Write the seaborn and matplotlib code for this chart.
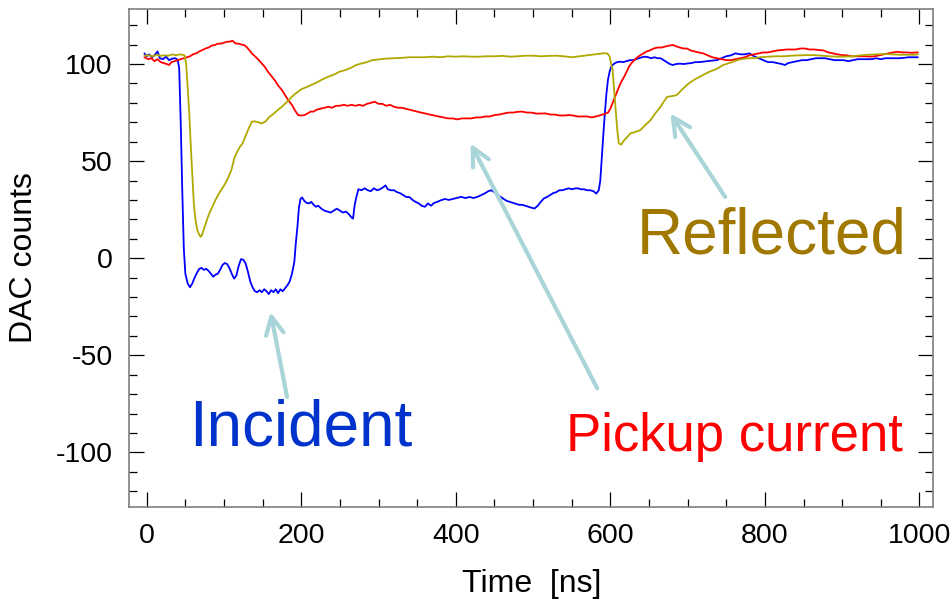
import matplotlib
matplotlib.use("Agg")
import matplotlib.pyplot as plt
from matplotlib.ticker import MultipleLocator
from matplotlib.transforms import ScaledTranslation
import seaborn as sns
import pandas as pd

# ---- Incident pulse (DAC counts vs time in ns) ----
t_incident = [-3, 0, 3, 7, 10, 14, 17, 21, 25, 29, 33, 37, 40, 42, 44, 46, 48, 50, 53, 56,
              59, 62, 65, 68, 71, 74, 77, 80, 83, 86, 89, 92, 95, 98, 101, 104, 107, 110, 113, 116,
              119, 122, 125, 128, 131, 134, 137, 140, 143, 146, 149, 152, 155, 158, 161, 164, 167, 170, 173, 176,
              179, 182, 185, 188, 191, 193, 195, 197, 199, 201, 204, 207, 210, 213, 216, 219, 222, 226, 230, 234,
              238, 242, 246, 250, 254, 258, 262, 265, 267, 269, 271, 274, 278, 282, 286, 290, 294, 298, 302, 306,
              309, 312, 316, 320, 324, 328, 332, 336, 340, 344, 348, 352, 356, 360, 364, 368, 372, 376, 381, 386,
              391, 396, 401, 407, 412, 418, 423, 428, 433, 438, 442, 446, 450, 454, 458, 462, 466, 470, 474, 478,
              482, 486, 490, 494, 498, 502, 506, 510, 514, 518, 522, 526, 530, 534, 538, 542, 546, 550, 554, 558,
              562, 566, 570, 574, 578, 582, 585, 587, 589, 591, 593, 595, 597, 599, 601, 603, 606, 609, 613, 617,
              621, 625, 629, 633, 637, 641, 645, 649, 653, 657, 661, 665, 669, 673, 677, 681, 685, 690, 695, 700,
              705, 710, 715, 720, 726, 732, 738, 744, 750, 756, 762, 768, 774, 780, 786, 792, 798, 804, 810, 816,
              822, 826, 830, 836, 842, 848, 854, 860, 866, 872, 878, 884, 890, 896, 902, 908, 914, 920, 926, 932,
              938, 944, 950, 956, 962, 968, 974, 980, 986, 992, 998]
v_incident = [105.5, 104, 105, 103.5, 104.5, 106.5, 103, 102.5, 103.8, 102, 102.8, 103, 102.2, 98, 70, 35, 5, -8, -13, -15,
              -13, -10, -7.5, -5.5, -5, -6, -5.5, -6.5, -8, -9.5, -8.5, -8, -6, -3.5, -2.5, -3, -5, -8, -10.5, -9,
              -4, -0.5, -0.8, -2.7, -7, -12, -15, -17, -17.5, -16.5, -17.5, -16, -17, -18.5, -16.5, -17.5, -16, -18, -16, -17,
              -15.5, -14, -12, -8, -2, 8, 16, 26, 30.5, 31.3, 29.5, 28.5, 28.2, 29, 27.5, 26.5, 27, 25.5, 24.5, 24,
              23.5, 24.5, 25.5, 24.5, 23.5, 24, 22.5, 21, 20.4, 27, 31, 35.5, 35, 36, 35, 34.5, 36, 35, 35.5, 36.5,
              37.5, 35.5, 35, 35, 34, 33.5, 32.5, 31.5, 31.5, 30, 29, 28.2, 27, 26.5, 28.2, 27, 28.5, 29, 29.9, 30.5,
              30, 30.5, 31, 31.6, 31, 31.5, 31, 31.6, 32.5, 33.5, 34.5, 35, 34, 32.5, 31.6, 30.5, 29.5, 29, 28.5, 28,
              27.5, 27.5, 27, 26.5, 26, 25.6, 27, 29, 30.8, 31.5, 32.5, 33.5, 34, 35, 35, 35.5, 36, 35.5, 35.9, 36,
              35.5, 35.5, 35, 35, 34.5, 33.3, 35, 40, 52, 64, 75, 85, 92, 96, 98.5, 99.5, 100.5, 101, 101.2, 101,
              101.5, 102, 102, 102.5, 103, 103.5, 103.8, 103.5, 103, 103.5, 103, 103, 102, 101, 100, 99.5, 100, 100.2, 100, 100.3,
              100.5, 101, 101, 101.2, 101.5, 101.8, 102, 103, 104, 104.5, 105.5, 105, 105, 105.5, 104, 103, 102, 101, 101, 100.5,
              100, 99.5, 100.5, 101, 101.5, 102, 102, 102.5, 103, 103, 103, 102.5, 102, 102, 102, 101.5, 102, 102.5, 102.5, 102.5,
              102.5, 103, 102.5, 103, 103, 103, 103, 103.2, 103.5, 103.5, 103.5]

# ---- Pickup current ----
t_pickup = [-3, 2, 6, 10, 14, 18, 22, 26, 29, 32, 36, 40, 44, 48, 52, 56, 60, 64, 68, 72,
            76, 80, 84, 88, 92, 96, 100, 104, 107, 111, 115, 119, 123, 126, 130, 133, 136, 140, 144, 149,
            153, 157, 162, 166, 170, 175, 179, 183, 188, 192, 196, 200, 204, 208, 212, 216, 220, 225, 230, 235,
            240, 245, 250, 255, 260, 265, 270, 275, 280, 285, 290, 295, 300, 305, 310, 315, 320, 325, 330, 335,
            340, 345, 350, 355, 360, 366, 372, 378, 384, 390, 396, 402, 408, 414, 420, 426, 432, 438, 444, 450,
            456, 462, 468, 474, 480, 486, 492, 498, 504, 510, 516, 522, 528, 534, 540, 546, 552, 558, 564, 570,
            576, 581, 586, 590, 594, 597, 600, 603, 606, 609, 612, 615, 618, 621, 624, 627, 631, 635, 639, 643,
            647, 651, 656, 661, 666, 671, 676, 681, 686, 690, 695, 699, 704, 709, 714, 720, 726, 732, 738, 744,
            750, 756, 762, 768, 774, 780, 786, 792, 798, 804, 810, 816, 822, 828, 834, 840, 846, 852, 858, 864,
            870, 876, 882, 888, 894, 900, 906, 912, 918, 924, 930, 936, 942, 948, 954, 960, 966, 972, 978, 984,
            990, 998]
v_pickup = [103.5, 102.5, 103, 101.5, 102.5, 101, 100.5, 100, 99.5, 101, 101.5, 102, 102.5, 103, 103.5, 104, 105, 105.5, 106.5, 107.2,
            108, 108.5, 109.5, 109.8, 110.5, 110.5, 111, 111.5, 111.5, 112, 110.6, 110.5, 110, 109.8, 108.5, 107, 105.5, 104, 102.5, 100.3,
            98.5, 96, 93.5, 91.5, 89, 86.6, 84, 81.5, 78.9, 76, 73.7, 73.5, 73.7, 74.5, 75.5, 75.5, 76.5, 77, 77.5, 78,
            77.5, 78.5, 78.5, 79, 78.5, 79, 78.5, 79, 78.5, 79.5, 80, 80.6, 79.5, 79.5, 78.5, 79, 78, 77.5, 77.5, 77,
            76.5, 76, 75.5, 75, 74.6, 74, 73.5, 73, 72.5, 72, 72, 71.5, 72, 72, 72, 72.5, 72.5, 73, 73, 73.7,
            74, 74.5, 75, 75, 75.4, 75.5, 75, 75, 74.5, 74.5, 74.6, 74, 74, 73.5, 73.5, 73.7, 73.5, 73, 73, 73,
            72.5, 73, 73.5, 74, 74.5, 75, 77, 80, 83, 86, 89, 91.5, 93.5, 96, 98.5, 100.3, 102, 103.5, 104.6, 105.5,
            106.5, 107, 108, 108.5, 108.5, 109, 109.5, 109.8, 109, 108.5, 108, 108, 107, 106.5, 106, 105.5, 104.5, 103.5, 103, 102.5,
            102, 102, 102.5, 103, 103.5, 104.5, 105, 105.5, 106, 106, 106.5, 107, 107.2, 107.5, 107.5, 107.5, 108, 108, 107.5, 107.5,
            107.2, 107, 106, 105.5, 105, 104.6, 104.5, 104, 104, 104, 104, 103.8, 104, 104.5, 105, 105.5, 106, 106.3, 106, 106,
            105.8, 106]

# ---- Reflected pulse ----
t_reflected = [-3, 3, 8, 13, 18, 23, 28, 33, 38, 43, 46, 49, 51, 53, 55, 57, 59, 61, 63, 65.5,
               68, 70, 72, 74, 76.5, 79, 82, 85, 89, 93.5, 97, 101, 106, 110, 113, 116, 120, 124, 128, 132,
               136, 140, 144, 149, 154, 158, 162, 166, 170, 175, 180, 185, 190, 195, 200, 206, 213, 220, 227, 235,
               242, 249, 257, 264, 271, 278, 285, 292, 300, 310, 321, 330, 340, 350, 360, 370, 380, 390, 400, 410,
               420, 430, 440, 450, 460, 470, 480, 490, 500, 510, 520, 530, 540, 550, 560, 570, 580, 590, 596, 599,
               601, 603, 605, 607, 609, 611, 614, 618, 622, 626, 632, 639, 645, 652, 658, 665, 669, 673.5, 680, 686,
               692, 699, 705, 711, 716, 722, 728, 734, 740, 746, 752, 758, 764, 770, 778, 786, 794, 804, 814, 824,
               834, 844, 854, 864, 874, 884, 894, 904, 914, 924, 934, 944, 954, 964, 974, 984, 994, 998]
v_reflected = [104.3, 104.5, 104, 104.8, 104.2, 104.5, 104.3, 105, 104.5, 105, 104.8, 104.5, 100, 88, 75, 58, 43, 28, 20, 14.4,
               12, 11, 12.5, 15, 18, 21, 24, 26.5, 30, 33.3, 35.5, 38, 41.9, 46, 51, 54, 57, 59.1, 63, 66.9,
               70.3, 70.5, 70, 69.4, 70.5, 72.5, 73.7, 75, 76.5, 78, 80, 82, 84, 85.5, 87, 88, 89.2, 90.5, 92, 93.5,
               94.5, 96, 96.9, 98, 99.5, 100.3, 101, 102, 102.4, 102.8, 103, 103.2, 103.5, 103.5, 103.5, 103.8, 103.5, 104, 103.8, 104,
               103.8, 103.8, 104, 104, 104.2, 103.8, 104, 104.3, 104.3, 104, 104.2, 104.3, 104, 103.5, 104, 104.5, 105, 105.5, 105.5, 104,
               100, 97, 86, 76, 66, 59.1, 58.5, 60.8, 62.5, 64.3, 65, 66, 68.5, 71.1, 74.5, 78, 80.5, 83.1, 83.5, 84,
               86.5, 89.2, 91, 92.5, 93.5, 94.8, 96, 96.9, 98, 99.5, 100.3, 101, 102, 102.5, 103, 103, 103.5, 103.8, 104, 104,
               104.3, 104.5, 104.6, 104.6, 104.3, 104, 103.8, 103.8, 104, 104.5, 104.8, 105, 105.2, 105, 104.8, 104.8, 104.8, 105]

# ---- Annotations: label text, text anchor, arrow tail and arrow head ----
labels = ["Incident", "Pickup current", "Reflected"]
label_xy = [(199.5, -96.4), (761.0, -99.5), (808.3, 2.6)]
arrow_tail = [(181.6, -71.5), (583.0, -67.0), (748.6, 31.6)]
arrow_head = [(160.2, -27.7), (419.2, 59.1), (677.7, 74.6)]
label_colors = ["#0033CC", "#FF0000", "#A07800"]
label_sizes = [46, 38, 46]

line_colors = {"Incident": "#0000FF", "Pickup current": "#FF0000", "Reflected": "#B0A800"}

sns.set_style("ticks")
plt.rcParams["font.family"] = ["Liberation Sans", "DejaVu Sans"]
plt.rcParams["axes.unicode_minus"] = False
for key in ("text.color", "axes.labelcolor", "xtick.color", "ytick.color",
            "xtick.labelcolor", "ytick.labelcolor"):
    plt.rcParams[key] = "black"

fig = plt.figure(figsize=(9.51, 6.04), dpi=100)
ax = fig.add_axes([0.136, 0.1611, 0.8454, 0.8235])

frames = [
    pd.DataFrame({"t": t_incident, "v": v_incident, "s": "Incident"}),
    pd.DataFrame({"t": t_pickup, "v": v_pickup, "s": "Pickup current"}),
    pd.DataFrame({"t": t_reflected, "v": v_reflected, "s": "Reflected"}),
]
for df in frames:
    name = df["s"].iloc[0]
    sns.lineplot(data=df, x="t", y="v", ax=ax, color=line_colors[name],
                 lw=1.3, estimator=None, sort=False, legend=False)

for text, xy, tail, head, col, fs in zip(labels, label_xy, arrow_tail, arrow_head,
                                         label_colors, label_sizes):
    ax.text(xy[0], xy[1], text, color=col, fontsize=fs, ha="center", va="baseline")
    ax.annotate("", xy=head, xytext=tail,
                arrowprops=dict(arrowstyle="->", color="#A9D5D9", lw=3,
                                mutation_scale=32, shrinkA=0, shrinkB=0))

ax.set_xlim(-22.5, 1018)
ax.set_ylim(-128, 128.2)
ax.xaxis.set_major_locator(MultipleLocator(200))
ax.xaxis.set_minor_locator(MultipleLocator(50))
ax.yaxis.set_major_locator(MultipleLocator(50))
ax.yaxis.set_minor_locator(MultipleLocator(10))

ax.tick_params(which="both", direction="in", top=True, right=True, color="black", width=0.9)
ax.tick_params(which="major", length=11, labelsize=20.5, pad=12)
ax.tick_params(which="minor", length=5.5)
for sp in ax.spines.values():
    sp.set_visible(True)
    sp.set_color("#7f7f7f")
    sp.set_linewidth(1.2)

ax.set_xlabel("Time  [ns]", fontsize=23, labelpad=14)
ax.set_ylabel("DAC counts", fontsize=23, labelpad=12)
ax.grid(False)

# the "0" label sits a little to the right of its tick
fig.canvas.draw()
first = ax.get_xticklabels()[0]
if first.get_text() == "0":
    first.set_transform(first.get_transform() + ScaledTranslation(10 / 100, 0, fig.dpi_scale_trans))

fig.savefig("out.png", dpi=100)
